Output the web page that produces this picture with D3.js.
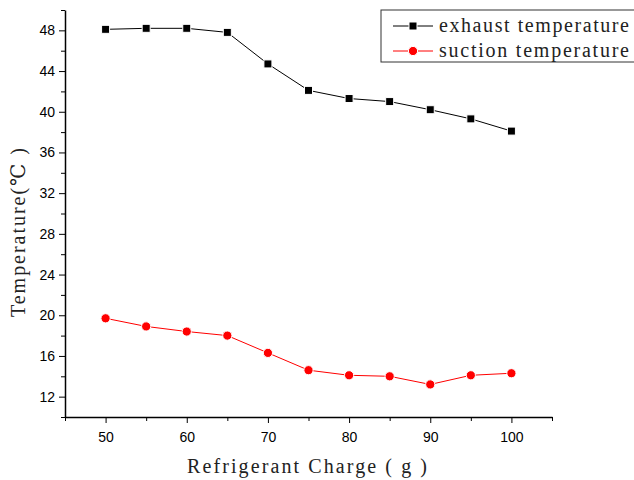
<!DOCTYPE html>
<html>
<head>
<meta charset="utf-8">
<script src="https://cdn.jsdelivr.net/npm/d3@7"></script>
<style>
  body { margin: 0; background: #fff; }
  svg { display: block; }
</style>
</head>
<body>
<div id="chart"></div>
<script>
// Data
const charge = [50, 55, 60, 65, 70, 75, 80, 85, 90, 95, 100];
const exhaustTemp = [48.1, 48.2, 48.2, 47.8, 44.7, 42.1, 41.3, 41.0, 40.2, 39.3, 38.1];
const suctionTemp = [19.7, 18.9, 18.4, 18.0, 16.3, 14.6, 14.1, 14.0, 13.2, 14.1, 14.3];
const xTicks = [50, 60, 70, 80, 90, 100];
const yTicks = [12, 16, 20, 24, 28, 32, 36, 40, 44, 48];
const seriesNames = ['exhaust temperature', 'suction temperature'];

const width = 634, height = 480;
const plot = { left: 65, right: 552, top: 10, bottom: 417 };
const serifFont = '"Liberation Serif", "DejaVu Serif", serif';
const tickFont = '"Liberation Sans", Arial, sans-serif';

const svg = d3.select('#chart')
    .append('svg')
    .attr('width', width)
    .attr('height', height);

const x = d3.scaleLinear().domain([45, 105]).range([plot.left, plot.right]);
const y = d3.scaleLinear().domain([10, 50]).range([plot.bottom, plot.top]);

// Minor ticks first (short)
const xMinor = d3.range(45, 106, 5).filter(v => !xTicks.includes(v));
const yMinor = d3.range(10, 51, 2).filter(v => !yTicks.includes(v));

svg.append('g')
    .attr('transform', `translate(0,${plot.bottom})`)
    .call(d3.axisBottom(x).tickValues(xMinor).tickSize(4).tickFormat(''))
    .call(g => g.select('.domain').remove());

svg.append('g')
    .attr('transform', `translate(${plot.left},0)`)
    .call(d3.axisLeft(y).tickValues(yMinor).tickSize(4).tickFormat(''))
    .call(g => g.select('.domain').remove());

// Major axes
const xAxis = svg.append('g')
    .attr('transform', `translate(0,${plot.bottom})`)
    .call(d3.axisBottom(x).tickValues(xTicks).tickSize(6).tickSizeOuter(0).tickPadding(9));

const yAxis = svg.append('g')
    .attr('transform', `translate(${plot.left},0)`)
    .call(d3.axisLeft(y).tickValues(yTicks).tickSize(6).tickSizeOuter(0).tickPadding(4));

[xAxis, yAxis].forEach(g => {
    g.selectAll('text')
        .style('font-family', tickFont)
        .style('font-size', '14px')
        .attr('fill', '#000');
    g.select('.domain').attr('stroke-width', 1.5);
});

// Series
const series = [
    { name: seriesNames[0], values: exhaustTemp, color: '#000', shape: 'square' },
    { name: seriesNames[1], values: suctionTemp, color: '#ff0000', shape: 'circle' }
];

const line = d3.line()
    .x(d => x(d.x))
    .y(d => y(d.y));

function drawMarker(sel, s) {
    if (s.shape === 'square') {
        sel.append('rect')
            .attr('x', -4).attr('y', -4)
            .attr('width', 8).attr('height', 8)
            .attr('fill', s.color)
            .attr('stroke', '#fff')
            .attr('stroke-width', 1);
    } else {
        sel.append('circle')
            .attr('r', 4.6)
            .attr('fill', s.color)
            .attr('stroke', '#fff')
            .attr('stroke-width', 1);
    }
}

series.forEach(s => {
    const pts = charge.map((c, i) => ({ x: c, y: s.values[i] }));
    svg.append('path')
        .datum(pts)
        .attr('d', line)
        .attr('fill', 'none')
        .attr('stroke', s.color)
        .attr('stroke-width', 1);

    svg.selectAll(null)
        .data(pts)
        .enter()
        .append('g')
        .attr('transform', d => `translate(${x(d.x)},${y(d.y)})`)
        .each(function () { drawMarker(d3.select(this), s); });
});

// Legend
const legend = svg.append('g');
legend.append('rect')
    .attr('x', 381).attr('y', 10)
    .attr('width', 270).attr('height', 52)
    .attr('fill', '#fff')
    .attr('stroke', '#333')
    .attr('stroke-width', 1);

series.forEach((s, i) => {
    const cy = 26 + i * 25;
    legend.append('line')
        .attr('x1', 393).attr('x2', 433)
        .attr('y1', cy).attr('y2', cy)
        .attr('stroke', s.color)
        .attr('stroke-width', 1);
    const m = legend.append('g').attr('transform', `translate(413,${cy})`);
    drawMarker(m, s);
    legend.append('text')
        .attr('x', 439).attr('y', cy + 6)
        .attr('textLength', 190)
        .attr('lengthAdjust', 'spacing')
        .style('font-family', serifFont)
        .style('font-size', '20px')
        .attr('fill', '#222')
        .text(s.name);
});

// Axis titles
svg.append('text')
    .attr('x', 187).attr('y', 473)
    .attr('textLength', 240)
    .attr('lengthAdjust', 'spacing')
    .style('font-family', serifFont)
    .style('font-size', '20px')
    .attr('fill', '#222')
    .text('Refrigerant Charge ( g )');

svg.append('text')
    .attr('transform', 'translate(25,317) rotate(-90)')
    .attr('x', 0).attr('y', 0)
    .attr('textLength', 169)
    .attr('lengthAdjust', 'spacing')
    .style('font-family', serifFont)
    .style('font-size', '20px')
    .attr('fill', '#222')
    .text('Temperature(\u2103 )');
</script>
</body>
</html>
